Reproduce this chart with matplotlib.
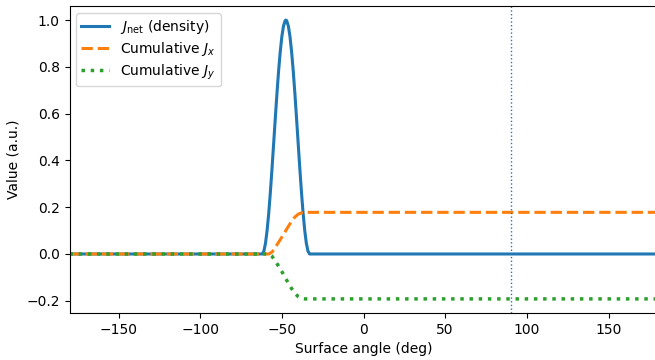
import matplotlib
matplotlib.use("Agg")
import matplotlib.pyplot as plt

# Density J_net
jnet_x = [-180, -62, -61, -60, -59, -58, -57, -56, -55, -54, -53, -52, -51, -50, -49, -48, -47.5,
          -47, -46, -45, -44, -43, -42, -41, -40, -39, -38, -37, -36, -35, -34, -33, 180]
jnet_y = [0, 0, 0.012, 0.046, 0.102, 0.176, 0.266, 0.367, 0.473, 0.581, 0.685, 0.781, 0.863, 0.929, 0.974, 0.997, 1.0,
          0.997, 0.974, 0.929, 0.863, 0.781, 0.685, 0.581, 0.473, 0.367, 0.266, 0.176, 0.102, 0.046, 0.012, 0, 0]

# Cumulative J_x
jx_x = [-180, -58, -56, -54, -52, -50, -48, -46, -44, -42, -40, -38, -36, 180]
jx_y = [0, 0, 0.008, 0.028, 0.05, 0.072, 0.095, 0.118, 0.14, 0.158, 0.17, 0.176, 0.178, 0.178]

# Cumulative J_y
jy_x = [-180, -58, -56, -54, -52, -50, -48, -46, -44, -42, -40, -38, -36, 180]
jy_y = [0, 0, -0.01, -0.03, -0.052, -0.075, -0.1, -0.125, -0.148, -0.168, -0.182, -0.19, -0.192, -0.192]

vline_x = 90

fig = plt.figure(figsize=(6.55, 3.6), dpi=100)
ax = fig.add_axes([69.5 / 655, 0.131, 588 / 655, 0.852])
ax.plot(jnet_x, jnet_y, color="tab:blue", lw=2.2, label=r"$J_{\mathrm{net}}$ (density)")
ax.plot(jx_x, jx_y, color="tab:orange", lw=2.2, ls="--", label=r"Cumulative $J_x$")
ax.plot(jy_x, jy_y, color="tab:green", lw=2.5, ls=":", label=r"Cumulative $J_y$")
ax.axvline(vline_x, color="tab:blue", lw=1, ls=":")
ax.set_xlim(-180, 180)
ax.set_xlabel("Surface angle (deg)")
ax.set_ylabel("Value (a.u.)")
ax.legend(loc="upper left", labelspacing=0.3, borderpad=0.35)
fig.savefig("out.png", dpi=100)
